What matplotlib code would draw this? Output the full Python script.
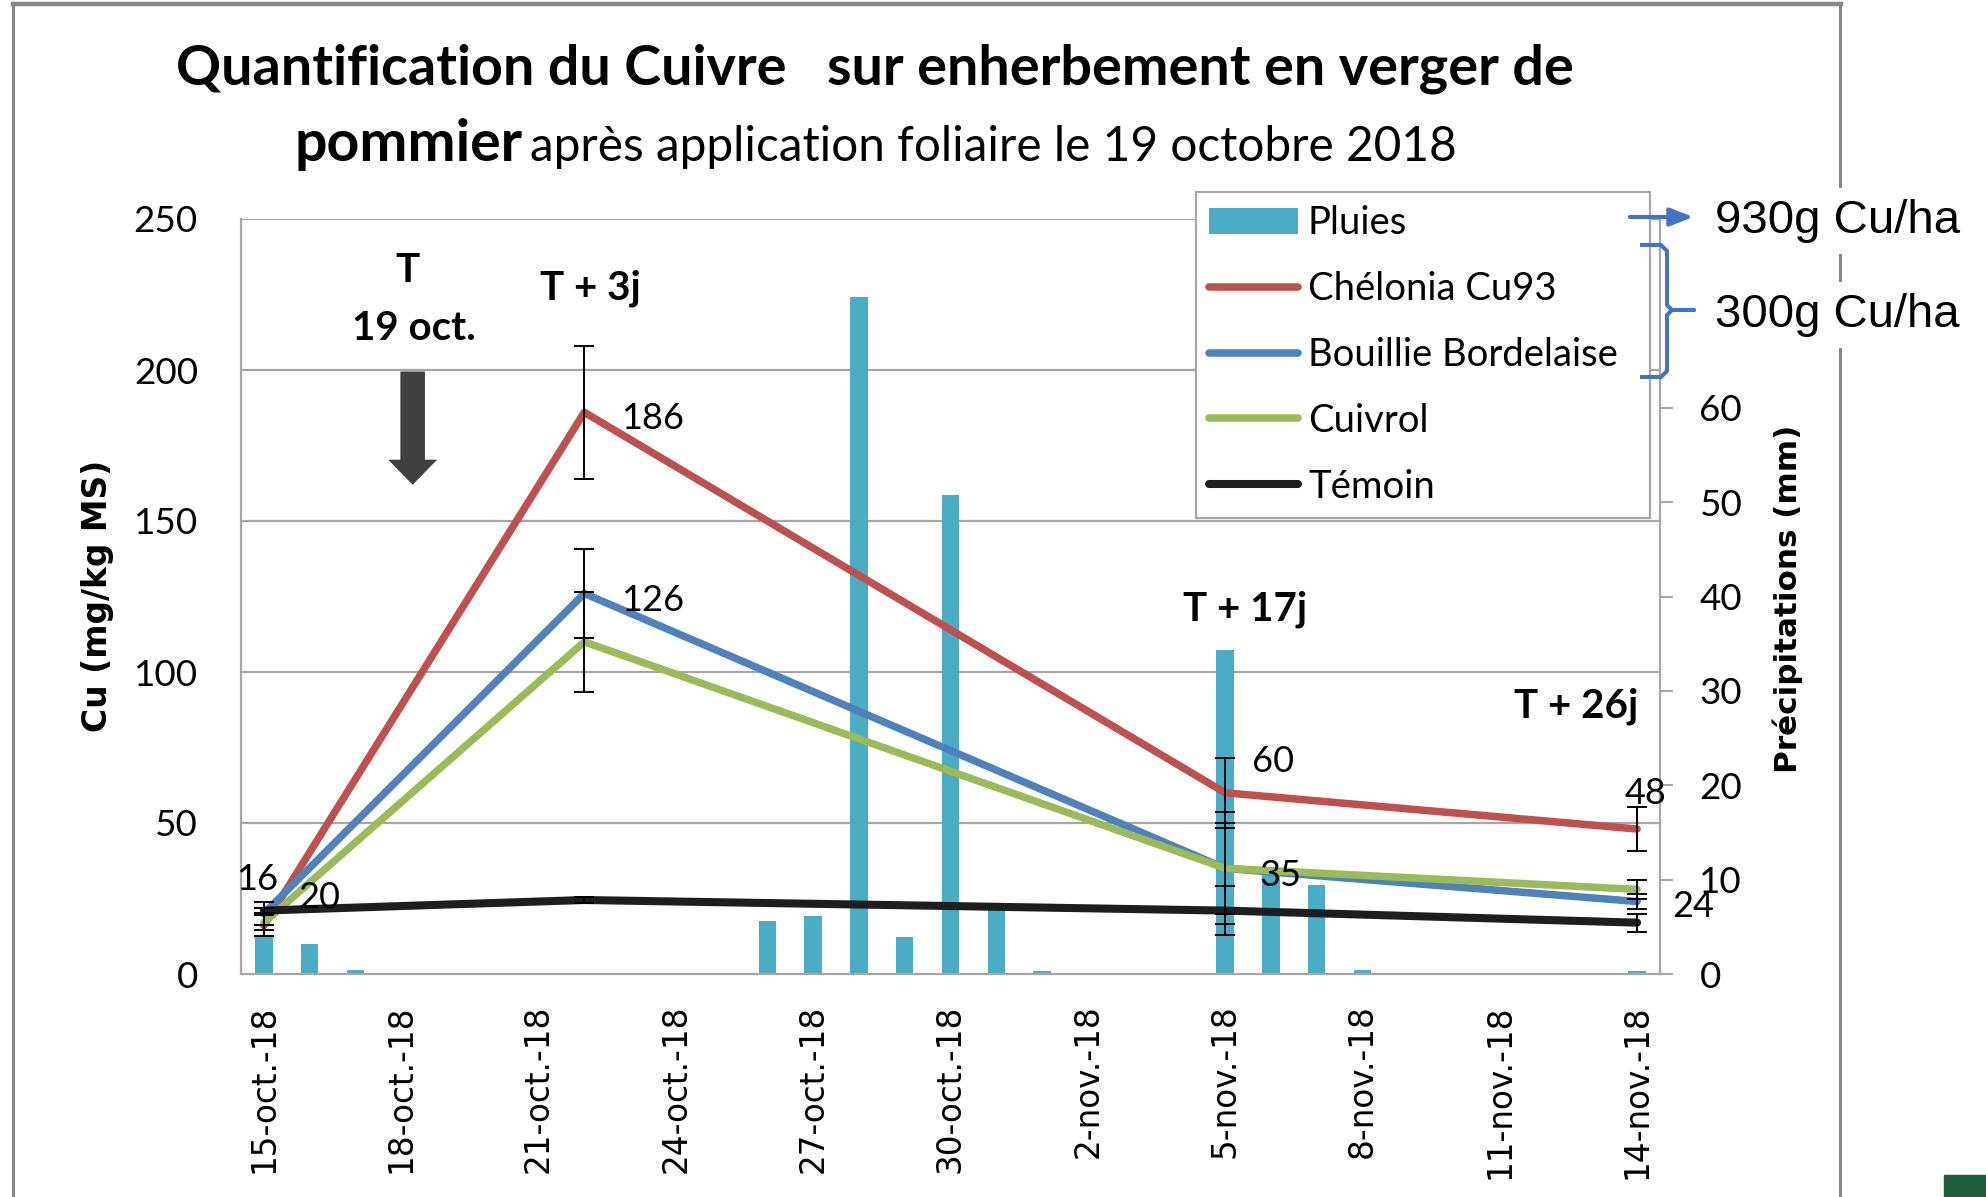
import numpy as np
import matplotlib
matplotlib.use('Agg')
import matplotlib.pyplot as plt
from matplotlib.patches import FancyArrow, FancyArrowPatch, Rectangle
from matplotlib.lines import Line2D

# ---------------- data ----------------
start_date = '2018-10-15'
sample_dates = ['2018-10-15', '2018-10-22', '2018-11-05', '2018-11-14']
chelonia = [16, 186, 60, 48]
chelonia_err = [3.5, 22, 11.5, 7.3]
bouillie = [20, 126, 35, 24]
bouillie_err = [3.8, 14.6, 18.5, 2.5]
cuivrol = [17, 110, 35, 28]
cuivrol_err = [2.5, 16.5, 15, 3]
temoin = [21, 24.5, 21, 17]
temoin_err = [0.8, 1, 8, 3]

rain_dates = ['2018-10-15', '2018-10-16', '2018-10-17', '2018-10-26', '2018-10-27',
              '2018-10-28', '2018-10-29', '2018-10-30', '2018-10-31', '2018-11-01',
              '2018-11-05', '2018-11-06', '2018-11-07', '2018-11-08', '2018-11-14']
rain_mm = [3.9, 3.2, 0.4, 5.6, 6.1, 71.7, 3.9, 50.8, 7.0, 0.3, 34.3, 10.5, 9.4, 0.4, 0.3]

tick_dates = ['2018-10-15', '2018-10-18', '2018-10-21', '2018-10-24', '2018-10-27',
              '2018-10-30', '2018-11-02', '2018-11-05', '2018-11-08', '2018-11-11',
              '2018-11-14']
tick_labels = ['15-oct.-18', '18-oct.-18', '21-oct.-18', '24-oct.-18', '27-oct.-18',
               '30-oct.-18', '2-nov.-18', '5-nov.-18', '8-nov.-18', '11-nov.-18',
               '14-nov.-18']
cu_ticks = [0, 50, 100, 150, 200, 250]
rain_ticks = [0, 10, 20, 30, 40, 50, 60]
series_names = ['Chélonia Cu93', 'Bouillie Bordelaise', 'Cuivrol', 'Témoin']
rain_name = 'Pluies'


def days(ds):
    return (np.array(ds, dtype='datetime64[D]') - np.datetime64(start_date)).astype(float)


# ---------------- figure ----------------
W, H, DPI = 1986, 1197, 100
plt.rcParams['font.family'] = ['Lato', 'DejaVu Sans']
fig = plt.figure(figsize=(W / DPI, H / DPI), dpi=DPI)
fig.patch.set_facecolor('white')


def fx(x):
    return x / W


def fy(y):
    return 1 - y / H


GRID = '#A6A6A6'
ax = fig.add_axes([fx(241), fy(974), (1660 - 241) / W, (974 - 219) / H])
ax2 = ax.twinx()
ax.set_zorder(ax2.get_zorder() + 1)
ax.patch.set_visible(False)

# rain bars (secondary axis)
bars = ax2.bar(days(rain_dates), rain_mm, width=0.38, color='#4BACC6', zorder=2,
               label=rain_name)
ax2.set_ylim(0, 80)
ax2.set_yticks(rain_ticks)
ax2.set_yticks([v * 80 / 250 for v in cu_ticks], minor=True)
ax2.grid(which='minor', axis='y', color=GRID, lw=1.6)
ax2.set_axisbelow(True)
ax2.tick_params(which='minor', length=0)
ax2.tick_params(axis='y', which='major', length=9.4, width=1.5, color=GRID,
                direction='out', pad=19, labelsize=26.5)
for s in ['left', 'top', 'bottom']:
    ax2.spines[s].set_visible(False)
ax2.spines['right'].set_color(GRID)
ax2.spines['right'].set_linewidth(1.6)

# copper lines
sx = days(sample_dates)
colors = ['#C0504D', '#4F81BD', '#9BBB59', '#1E1E1E']
widths = [5.4, 5.4, 5.4, 5.8]
vals_all = [chelonia, bouillie, cuivrol, temoin]
errs_all = [chelonia_err, bouillie_err, cuivrol_err, temoin_err]
lines = []
for vals, col, lw, lab in zip(vals_all, colors, widths, series_names):
    ln, = ax.plot(sx, vals, color=col, lw=lw, solid_joinstyle='round',
                  solid_capstyle='round', label=lab, zorder=3)
    lines.append(ln)
for vals, errs in zip(vals_all, errs_all):
    ax.errorbar(sx, vals, yerr=errs, fmt='none', ecolor='black', elinewidth=1.4,
                capsize=7, capthick=1.4, zorder=4)

ax.set_xlim(-0.5, 30.5)
ax.set_ylim(0, 250)
ax.set_yticks(cu_ticks)
ax.tick_params(axis='y', length=0, pad=31, labelsize=26.5)
ax.set_xticks(days(tick_dates))
ax.set_xticklabels(tick_labels, rotation=90, fontfamily='DejaVu Sans', fontsize=23.5)
ax.tick_params(axis='x', length=0, pad=22)
for s in ['top', 'right']:
    ax.spines[s].set_visible(False)
for s in ['left', 'bottom']:
    ax.spines[s].set_color(GRID)
    ax.spines[s].set_linewidth(1.6)

# data labels
label_specs = [  # (series index, point index, dx pt, dy pt to baseline)
    (0, 0, -19.8, 26.0), (1, 0, 24.8, 4.3), (0, 1, 26.6, -11.7), (1, 1, 26.6, -12.7),
    (0, 2, 19.0, 15.0), (1, 2, 25.0, -12.4), (0, 3, -9.0, 18.2), (1, 3, 25.6, -10.9)]
for si, pi, dx, dy in label_specs:
    v = vals_all[si][pi]
    ax.annotate(f'{v:g}', (sx[pi], v), xytext=(dx, dy), textcoords='offset points',
                ha='left', va='baseline', fontsize=26, color='black', zorder=6)

# phase labels
bold_kw = dict(fontsize=29, fontweight='bold', color='black', ha='center', va='baseline')
ax.text(3.13, 229.2, 'T', **bold_kw)
ax.text(3.28, 210.0, '19 oct.', **bold_kw)
ax.text(7.13, 223.3, 'T + 3j', **bold_kw)
ax.text(21.43, 116.9, 'T + 17j', **bold_kw)
ax.text(28.67, 85.0, 'T + 26j', **bold_kw)
ax.add_patch(FancyArrow(3.25, 199.5, 0, -37.5, width=0.537, head_width=1.07,
                        head_length=8.3, length_includes_head=True,
                        color='#404040', lw=0, zorder=5))

# legend
leg = ax.legend([bars] + lines, [rain_name] + series_names, loc='upper left',
                bbox_to_anchor=(fx(1196), fy(522), (1650 - 1196) / W, (522 - 192) / H),
                bbox_transform=fig.transFigure, mode='expand', borderaxespad=0,
                fontsize=27.5, handlelength=2.33, handletextpad=0.25, labelspacing=0.78,
                borderpad=0.35, fancybox=False, framealpha=1, edgecolor=GRID)
leg.get_frame().set_linewidth(1.6)

# ---------------- figure-level texts ----------------
fig.canvas.draw()
rend = fig.canvas.get_renderer()


def fit(t, target, use_height=False):
    bb = t.get_window_extent(rend)
    cur = bb.height if use_height else bb.width
    t.set_fontsize(t.get_fontsize() * target / cur)


t1 = fig.text(fx(875), fy(85), 'Quantification du Cuivre   sur enherbement en verger de',
              ha='center', va='baseline', fontweight='bold', fontsize=36)
fit(t1, 1397)
t2a = fig.text(fx(295), fy(161), 'pommier', ha='left', va='baseline',
               fontweight='bold', fontsize=36)
fit(t2a, 227)
t2b = fig.text(fx(530), fy(161), 'après application foliaire le 19 octobre 2018',
               ha='left', va='baseline', fontsize=36)
fit(t2b, 927)

yl = fig.text(fx(98), fy(596), 'Cu (mg/kg MS)', rotation=90, ha='center', va='center',
              fontweight='bold', fontfamily='DejaVu Sans', fontsize=23)
fit(yl, 273, use_height=True)
yr = fig.text(fx(1788), fy(599), 'Précipitations (mm)', rotation=90, ha='center',
              va='center', fontweight='bold', fontfamily='DejaVu Sans', fontsize=21)
fit(yr, 348, use_height=True)

# slide frame
FRAME = '#878787'
fig.add_artist(Line2D([fx(13), fx(1841)], [fy(4), fy(4)], color=FRAME, lw=3.2,
                      transform=fig.transFigure, zorder=5))
fig.add_artist(Line2D([fx(13), fx(13)], [fy(4), 0], color=FRAME, lw=2.2,
                      transform=fig.transFigure, zorder=5))
fig.add_artist(Line2D([fx(1840), fx(1840)], [fy(4), 0], color=FRAME, lw=2.2,
                      transform=fig.transFigure, zorder=5))
fig.add_artist(Rectangle((fx(1944), 0), 42 / W, 22 / H, transform=fig.transFigure,
                         color='#1E5A3C', zorder=5))

# dose annotations
a1 = fig.text(fx(1715), fy(233), '930g Cu/ha', ha='left', va='baseline',
              fontfamily=['Liberation Sans', 'DejaVu Sans'], fontsize=34, zorder=10,
              bbox=dict(facecolor='white', edgecolor='none', pad=8))
fit(a1, 245)
a2 = fig.text(fx(1715), fy(327), '300g Cu/ha', ha='left', va='baseline',
              fontfamily=['Liberation Sans', 'DejaVu Sans'], fontsize=34, zorder=10,
              bbox=dict(facecolor='white', edgecolor='none', pad=8))
fit(a2, 245)

BLUE = '#4472C4'
fig.add_artist(FancyArrowPatch((fx(1627), fy(217)), (fx(1696), fy(217)),
                               transform=fig.transFigure,
                               arrowstyle='-|>,head_length=1.4,head_width=0.55',
                               mutation_scale=10, color=BLUE, lw=2.9, zorder=11))
bx = [1640, 1661, 1667, 1667, 1672, 1694, 1672, 1667, 1667, 1661, 1640]
by = [245, 245, 251, 305, 310, 310, 310, 315, 371, 377, 377]
fig.add_artist(Line2D([fx(v) for v in bx], [fy(v) for v in by], color=BLUE, lw=2.9,
                      solid_joinstyle='round', solid_capstyle='butt',
                      transform=fig.transFigure, zorder=11))

fig.savefig('out.png', dpi=DPI, facecolor='white')
